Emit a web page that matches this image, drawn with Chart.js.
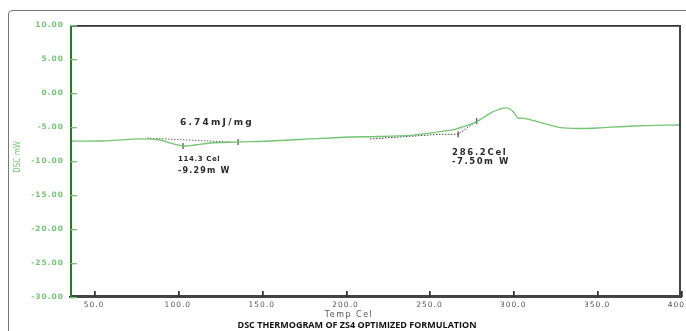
<!DOCTYPE html>
<html>
<head>
<meta charset="utf-8">
<script src="https://cdn.jsdelivr.net/npm/chart.js@4/dist/chart.umd.min.js"></script>
<style>
  html, body { margin: 0; padding: 0; background: #fff; }
  #wrap { width: 686px; height: 331px; }
</style>
</head>
<body>
<div id="wrap"><canvas id="dsc-chart"></canvas></div>
<script>
// DSC curve (temperature in Cel, heat flow in mW)
const temps = [35.7, 53.6, 77.4, 89.4, 95.3, 103.1, 110.2, 119.2, 135.9, 155.0, 178.8, 202.6,
  220.6, 240.3, 256.3, 265.3, 270.1, 278.2, 286.1, 291.0, 295.5, 298.0, 300.0, 303.0, 305.0,
  308.0, 315.9, 327.9, 341.2, 350.1, 371.6, 395.5, 399.6];
const dscValues = [-7.06, -7.06, -6.76, -6.91, -7.35, -7.79, -7.65, -7.35, -7.21, -7.06, -6.76, -6.47,
  -6.40, -6.18, -5.69, -5.34, -4.96, -4.22, -2.99, -2.45, -2.2, -2.35, -2.75, -3.72, -3.68,
  -3.82, -4.31, -5.10, -5.22, -5.15, -4.85, -4.71, -4.71];

// integration baselines drawn by the instrument software
const base1Temps = [81.6, 131.0];
const base1Values = [-6.62, -7.21];
const base2Temps = [214.6, 256.3, 267.1, 278.2];
const base2Values = [-6.76, -6.07, -6.07, -4.12];
const markTemps = [103.1, 135.9, 267.1, 278.2];
const markValues = [-7.79, -7.21, -6.07, -4.12];

const xTicks = [50, 100, 150, 200, 250, 300, 350, 400];
const yTicks = [10, 5, 0, -5, -10, -15, -20, -25, -30];

// text notes, anchored at [temp, value]
const notes = [
  { text: '6.74mJ/mg', at: [101.3, -4.41], font: 'bold 9px "DejaVu Sans"', spacing: '2.2px' },
  { text: '114.3 Cel', at: [100.1, -9.71], font: 'bold 7px "DejaVu Sans"', spacing: '0.6px' },
  { text: '-9.29m W', at: [100.1, -11.47], font: 'bold 8px "DejaVu Sans"', spacing: '1.2px' },
  { text: '286.2Cel', at: [263.5, -8.82], font: 'bold 8.5px "DejaVu Sans"', spacing: '1.7px' },
  { text: '-7.50m W', at: [263.5, -10.15], font: 'bold 8.5px "DejaVu Sans"', spacing: '1.5px' }
];

const green = '#74c474';
const axisGreen = '#1e7d1e';

function drawBox(chart) {
  const ctx = chart.ctx;
  const a = chart.chartArea;
  const xs = chart.scales.x, ys = chart.scales.y;
  const l = Math.round(a.left), t = Math.round(a.top);
  const r = Math.round(a.right), b = Math.round(a.bottom);
  ctx.save();
  ctx.fillStyle = '#333';
  ctx.fillRect(l, t, r - l, 1.5);
  ctx.fillStyle = '#444';
  ctx.fillRect(r - 2, t, 2, b - t);
  ctx.fillRect(l, b - 2, r - l, 2);
  ctx.fillStyle = axisGreen;
  ctx.fillRect(l, t, 2, b - t);

  // inner tick marks
  ctx.fillStyle = green;
  yTicks.forEach(v => {
    const y = Math.round(ys.getPixelForValue(v));
    ctx.fillRect(l, y, 7, 1.2);
  });
  ctx.fillStyle = '#333';
  xTicks.forEach(tk => {
    const x = Math.round(xs.getPixelForValue(tk));
    ctx.fillRect(x, b - 6, 1.5, 6);
  });
  ctx.restore();
}

const framePlugin = {
  id: 'frame',
  beforeDraw(chart) {
    chart.ctx.letterSpacing = '1px';
  },
  beforeDatasetsDraw(chart) {
    drawBox(chart);
  },
  afterDraw(chart) {
    const ctx = chart.ctx;
    const xs = chart.scales.x, ys = chart.scales.y;
    drawBox(chart);
    ctx.save();
    ctx.letterSpacing = '0px';

    // outer rounded frame
    ctx.strokeStyle = '#777';
    ctx.lineWidth = 1;
    ctx.beginPath();
    ctx.moveTo(8.5, 331);
    ctx.lineTo(8.5, 14);
    ctx.quadraticCurveTo(8.5, 10.5, 12, 10.5);
    ctx.lineTo(686, 10.5);
    ctx.stroke();

    // axis titles and caption
    ctx.fillStyle = green;
    ctx.font = '8px "Liberation Sans Narrow", "DejaVu Sans Condensed", sans-serif';
    ctx.textAlign = 'center';
    ctx.textBaseline = 'middle';
    ctx.save();
    ctx.translate(18, 157);
    ctx.rotate(-Math.PI / 2);
    ctx.fillText('DSC mW', 0, 0);
    ctx.restore();

    ctx.fillStyle = '#555';
    ctx.font = '8px "DejaVu Sans"';
    ctx.letterSpacing = '1.5px';
    ctx.fillText('Temp Cel', 349, 315);

    ctx.letterSpacing = '0px';
    ctx.fillStyle = '#111';
    ctx.font = 'bold 9px "Open Sans"';
    ctx.fillText('DSC THERMOGRAM OF ZS4 OPTIMIZED FORMULATION', 357, 325);

    // notes on the curve
    ctx.textAlign = 'left';
    ctx.fillStyle = '#2a2a2a';
    notes.forEach(n => {
      ctx.font = n.font;
      ctx.letterSpacing = n.spacing;
      ctx.fillText(n.text, xs.getPixelForValue(n.at[0]), ys.getPixelForValue(n.at[1]));
    });
    ctx.restore();
  }
};

const pts = (ts, vs) => ts.map((t, i) => ({ x: t, y: vs[i] }));

new Chart(document.getElementById('dsc-chart'), {
  type: 'line',
  data: {
    datasets: [
      {
        label: 'DSC',
        data: pts(temps, dscValues),
        borderColor: green,
        borderWidth: 1.3,
        pointRadius: 0,
        tension: 0.3
      },
      {
        label: 'baseline 1',
        data: pts(base1Temps, base1Values),
        borderColor: '#666',
        borderWidth: 1,
        borderDash: [1.5, 1.5],
        pointRadius: 0
      },
      {
        label: 'baseline 2',
        data: pts(base2Temps, base2Values),
        borderColor: '#444',
        borderWidth: 1,
        borderDash: [1.5, 1.5],
        pointRadius: 0
      },
      {
        label: 'marks',
        data: pts(markTemps, markValues),
        showLine: false,
        pointStyle: 'line',
        rotation: 90,
        pointRadius: 3,
        borderColor: '#222',
        borderWidth: 1
      }
    ]
  },
  options: {
    responsive: true,
    maintainAspectRatio: false,
    animation: false,
    layout: { padding: { left: 0, top: 25, right: 5, bottom: 0 } },
    plugins: {
      legend: { display: false },
      tooltip: { enabled: false }
    },
    scales: {
      x: {
        type: 'linear',
        min: 35.7,
        max: 400,
        afterFit(scale) {
          scale.height = 34;
          scale.paddingLeft = 0;
          scale.paddingRight = 0;
        },
        afterBuildTicks(scale) { scale.ticks = xTicks.map(v => ({ value: v })); },
        grid: { display: false, drawTicks: false },
        border: { display: true, color: '#444', width: 2 },
        ticks: {
          color: '#555',
          padding: 4,
          maxRotation: 0,
          autoSkip: false,
          font: { family: 'DejaVu Sans', size: 7.5 },
          callback: v => v.toFixed(1)
        }
      },
      y: {
        min: -30,
        max: 10,
        afterFit(scale) {
          scale.width = 70;
          scale.paddingTop = 0;
          scale.paddingBottom = 0;
        },
        afterBuildTicks(scale) { scale.ticks = yTicks.map(v => ({ value: v })); },
        grid: { display: false, drawTicks: false },
        border: { display: false },
        ticks: {
          color: green,
          padding: 6,
          autoSkip: false,
          font: { family: 'DejaVu Sans', size: 7.5, weight: 'bold' },
          callback: v => v.toFixed(2)
        }
      }
    }
  },
  plugins: [framePlugin]
});
</script>
</body>
</html>
